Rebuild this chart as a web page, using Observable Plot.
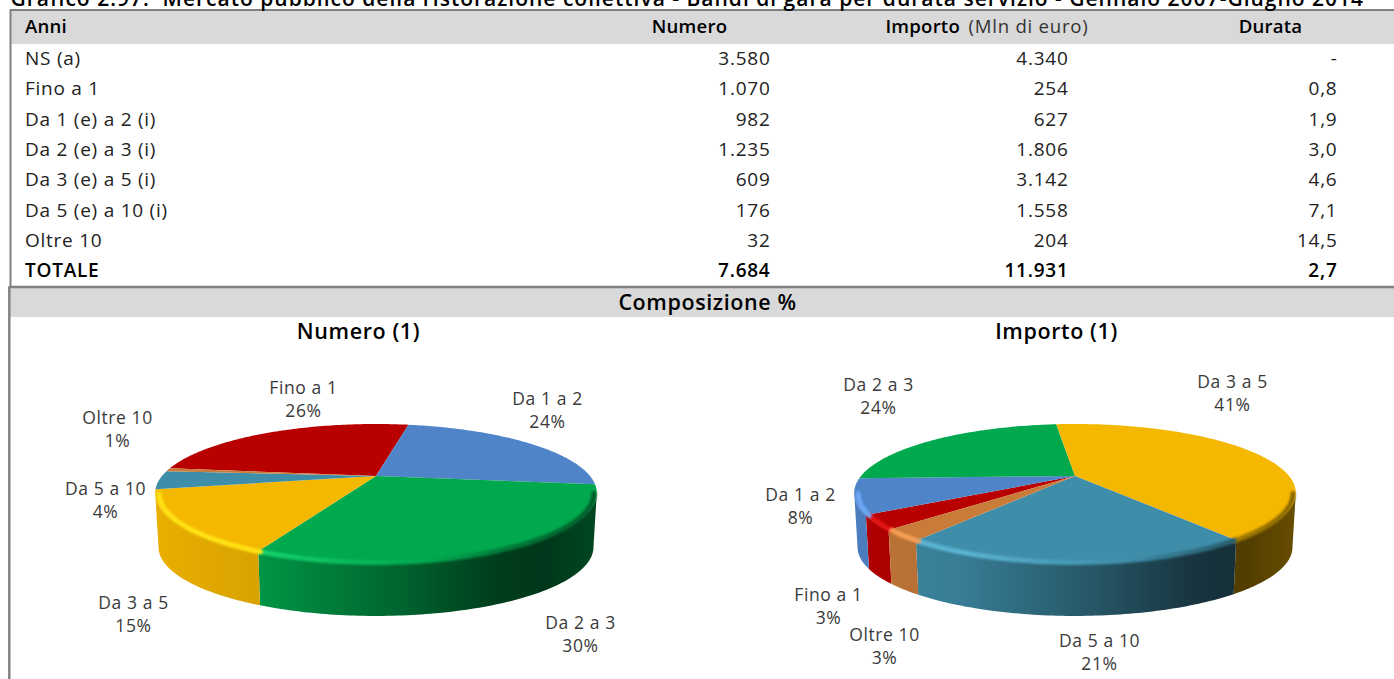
<!DOCTYPE html>
<html lang="it">
<head>
<meta charset="utf-8">
<title>Mercato pubblico della ristorazione collettiva</title>
<script src="https://cdn.jsdelivr.net/npm/d3@7"></script>
<script src="https://cdn.jsdelivr.net/npm/@observablehq/plot@0.6"></script>
<style>
  html, body { margin: 0; padding: 0; background: #fff; overflow: hidden; }
  svg { display: block; }
  .cells text { letter-spacing: 0.75px; }
  .heads text { letter-spacing: 0.2px; }
  .banner text { letter-spacing: 0.6px; }
  .pie-labels text { letter-spacing: 0.6px; }
  .doc-title text { letter-spacing: 1px; }
</style>
</head>
<body>
<div id="chart"></div>
<script>
// Table contents
const titleText = "Grafico 2.97:  Mercato pubblico della ristorazione collettiva - Bandi di gara per durata servizio - Gennaio 2007-Giugno 2014";
const rowLabels = ["NS (a)", "Fino a 1", "Da 1 (e) a 2 (i)", "Da 2 (e) a 3 (i)", "Da 3 (e) a 5 (i)", "Da 5 (e) a 10 (i)", "Oltre 10", "TOTALE"];
const numeroValues = [3580, 1070, 982, 1235, 609, 176, 32, 7684];
const importoValues = [4340, 254, 627, 1806, 3142, 1558, 204, 11931];
const durataValues = [null, 0.8, 1.9, 3.0, 4.6, 7.1, 14.5, 2.7];

// Pie contents: both pies leave out the "NS" row and share one slice order
const sliceNames = ["Fino a 1", "Da 1 a 2", "Da 2 a 3", "Da 3 a 5", "Da 5 a 10", "Oltre 10"];
const sliceColors = ["#b90000", "#4f84c9", "#00a84e", "#f5b800", "#3f8ea9", "#c97c3a"];
const numeroSlices = numeroValues.slice(1, 7);
const importoSlices = importoValues.slice(1, 7);

const it = d3.formatLocale({decimal: ",", thousands: ".", grouping: [3], currency: ["", "€"]});
const fmtInt = it.format(",d");
const fmtDec = it.format(".1f");

// Layout
const W = 1394, H = 679;
const font = "'Open Sans', Lato, sans-serif";
const rowY = i => 58.5 + i * 30.3;
const colNumero = 770, colImporto = 1068, colDurata = 1337, colLabel = 24.5;

// Pie projection: a tilted disc seen in perspective, so the centre sits above the ellipse's middle
const persp = 0.246, rBx = 214, rBy = 64.8, wallDepth = 54, wallScale = 0.985;
const tangent = Math.acos(-persp);
const rim = (p, th) => {
  const u = Math.sin(th), v = -Math.cos(th), d = 1 - persp * v;
  return {x: p.cx + rBx * u / d, y: p.cy + rBy * v / d};
};
const lower = (p, q) => ({x: p.cx + (q.x - p.cx) * wallScale, y: q.y + wallDepth});
const arcPoints = (a0, a1) => {
  const n = Math.max(1, Math.ceil((a1 - a0) / (Math.PI / 180)));
  return d3.range(n + 1).map(i => a0 + (a1 - a0) * i / n);
};

const numeroPie = {id: "n", cx: 376, cy: 476, start: 277 * Math.PI / 180, values: numeroSlices};
const importoPie = {id: "i", cx: 1075, cy: 476, start: 226.3 * Math.PI / 180, values: importoSlices};

// Centre of each two-line slice label
const labelSpots = {
  n: [[303, 398], [547, 409], [580, 633], [133, 613], [105, 499], [117, 428]],
  i: [[828, 605], [800, 505], [878, 395], [1232, 392], [1099, 651], [884, 645]]
};

// Brightness of the pie's wall and rim glow across its width, left to right
const wallShade = [[0, 0.95], [0.24, 0.88], [0.55, 0.6], [0.78, 0.36], [0.88, 0.33], [1, 0.42]];
const rimShade = [[0, 1.2], [0.25, 1.2], [0.45, 1.08], [0.62, 1], [0.8, 0.72], [1, 0.55]];
const shade = (c, k) => {
  const h = d3.rgb(c);
  const add = k > 1 ? 255 * (k - 1) * 0.4 : 0;
  const lift = v => Math.min(255, v * k + add * (1 - v / 255));
  return d3.rgb(lift(h.r), lift(h.g), lift(h.b)).formatHex();
};

function pieSlices(p) {
  const total = d3.sum(p.values);
  let a = p.start;
  return p.values.map((v, i) => {
    const a0 = a, a1 = a + v / total * 2 * Math.PI;
    a = a1;
    return {pie: p, i, name: sliceNames[i], value: v, share: v / total, a0, a1};
  });
}

function frontRange(s) {
  // the wall is visible only between the two tangents of the disc
  for (const turn of [0, -2 * Math.PI]) {
    const lo = Math.max(s.a0 + turn, tangent), hi = Math.min(s.a1 + turn, 2 * Math.PI - tangent);
    if (hi > lo) return [lo, hi];
  }
  return null;
}

function pieMarks(p) {
  const slices = pieSlices(p);
  const walls = [], tops = [], rims = [], labels = [];
  for (const s of slices) {
    const color = sliceColors[s.i];
    const f = frontRange(s);
    if (f) {
      const pts = arcPoints(f[0], f[1]).map(t => {
        const q = rim(p, t), l = lower(p, q);
        return {x1: q.x, y1: q.y, x2: l.x, y2: l.y, xr: p.cx + (q.x - p.cx) * 0.985, yr: q.y};
      });
      walls.push(Plot.area(pts, {x1: "x1", y1: "y1", x2: "x2", y2: "y2", fill: `url(#wall-${p.id}-${s.i})`}));
      rims.push(Plot.line(pts, {x: "xr", y: "yr", stroke: `url(#rim-${p.id}-${s.i})`, strokeWidth: 5, imageFilter: "blur(1.3px)"}));
    }
    const fan = arcPoints(s.a0, s.a1).map(t => {
      const q = rim(p, t);
      return {x1: p.cx, y1: p.cy, x2: q.x, y2: q.y};
    });
    tops.push(Plot.area(fan, {x1: "x1", y1: "y1", x2: "x2", y2: "y2", fill: color}));
    const [lx, ly] = labelSpots[p.id][s.i];
    labels.push({x: lx, y: ly, text: `${s.name}\n${Math.round(s.share * 100)}%`});
  }
  const gradients = (index, scales) => {
    const defs = d3.create("svg:defs");
    const left = scales.x(p.cx - 221), right = scales.x(p.cx + 221);
    for (const s of slices) {
      [["wall", wallShade], ["rim", rimShade]].forEach(([kind, stops]) => {
        const g = defs.append("linearGradient").attr("id", `${kind}-${p.id}-${s.i}`)
          .attr("gradientUnits", "userSpaceOnUse")
          .attr("x1", left).attr("x2", right).attr("y1", 0).attr("y2", 0);
        for (const [o, k] of stops) {
          g.append("stop").attr("offset", o).attr("stop-color", shade(sliceColors[s.i], k));
        }
      });
    }
    return defs.node();
  };
  return [
    gradients,
    ...walls,
    ...tops,
    // soft glow over the seam between disc and wall
    ...rims,
    Plot.text(labels, {x: "x", y: "y", text: "text", lineHeight: 1.3, lineAnchor: "middle", textAnchor: "middle", fontSize: 17.5, fill: "#3a3a3a", className: "pie-labels"})
  ];
}

const rows = rowLabels.map((label, i) => ({
  label, i, total: i === rowLabels.length - 1,
  numero: fmtInt(numeroValues[i]),
  importo: fmtInt(importoValues[i]),
  durata: durataValues[i] == null ? "-" : fmtDec(durataValues[i]),
  y: rowY(i)
}));
const plain = rows.filter(d => !d.total), bold = rows.filter(d => d.total);

const cell = (data, field, x, anchor, weight) => Plot.text(data, {
  x: () => x, y: "y", text: field, textAnchor: anchor, lineAnchor: "middle",
  fontSize: 19, fontWeight: weight, fill: weight > 400 ? "#000" : "#222", className: "cells"
});
const heading = (text, x, y, {anchor = "middle", size = 18.6, weight = 600, color = "#000", cls = "heads"} = {}) =>
  Plot.text([text], {x: () => x, y: () => y, text: d => d, textAnchor: anchor, lineAnchor: "middle", fontSize: size, fontWeight: weight, fill: color, className: cls});

const chart = Plot.plot({
  width: W, height: H,
  margin: 0,
  style: {fontFamily: font, background: "#fff"},
  x: {domain: [0, W], range: [0, W], axis: null},
  y: {domain: [0, H], range: [0, H], axis: null},
  marks: [
    // banners and table frame
    Plot.rect([{x1: 10, x2: W, y1: 10, y2: 44}, {x1: 10, x2: W, y1: 288, y2: 317}], {x1: "x1", x2: "x2", y1: "y1", y2: "y2", fill: "#d9d9d9"}),
    Plot.line([{x: 10, y: 286}, {x: 10, y: 9.5}, {x: W, y: 9.5}], {x: "x", y: "y", stroke: "#808080", strokeWidth: 2}),
    Plot.line([{x: 8.8, y: H}, {x: 8.8, y: 286.5}, {x: W, y: 286.5}], {x: "x", y: "y", stroke: "#808080", strokeWidth: 2.4}),
    // title, running up to the top edge of the page
    heading(titleText, 10, -1, {anchor: "start", size: 21, cls: "doc-title"}),
    // table
    heading("Anni", colLabel, 27, {anchor: "start"}),
    heading("Numero", 689, 27),
    heading("Importo", 885, 27, {anchor: "start"}),
    heading("(Mln di euro)", 968, 27, {anchor: "start", size: 18.6, weight: 400, color: "#333", cls: "cells"}),
    heading("Durata", 1270, 27),
    cell(plain, "label", colLabel, "start", 400),
    cell(plain, "numero", colNumero, "end", 400),
    cell(plain, "importo", colImporto, "end", 400),
    cell(plain, "durata", colDurata, "end", 400),
    cell(bold, "label", colLabel, "start", 600),
    cell(bold, "numero", colNumero, "end", 600),
    cell(bold, "importo", colImporto, "end", 600),
    cell(bold, "durata", colDurata, "end", 600),
    // composition section
    heading("Composizione %", 707, 303, {size: 21.5, cls: "banner"}),
    heading("Numero (1)", 358, 332, {size: 21.5, cls: "banner"}),
    heading("Importo (1)", 1056, 332, {size: 21.5, cls: "banner"}),
    ...pieMarks(numeroPie),
    ...pieMarks(importoPie)
  ]
});
document.getElementById("chart").append(chart);
</script>
</body>
</html>
